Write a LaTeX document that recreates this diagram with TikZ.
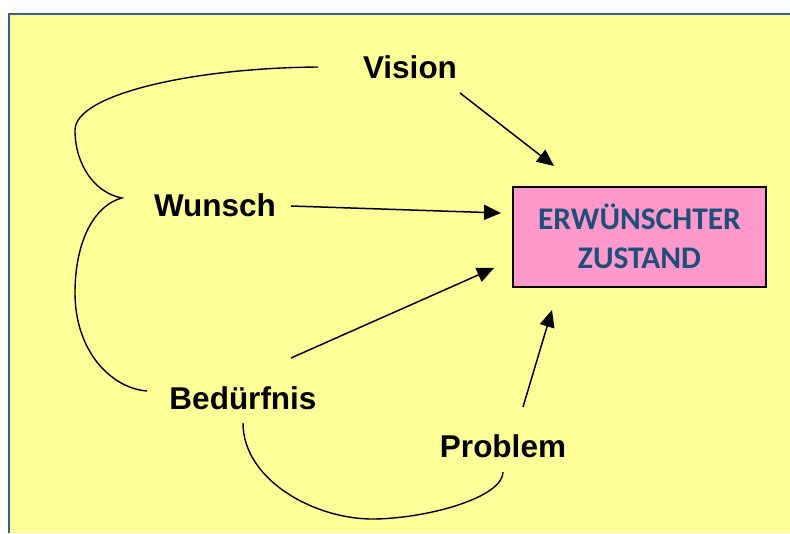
\documentclass[tikz,border=0pt]{standalone}
\usepackage{fontspec}
\setmainfont{Liberation Sans}
\newfontfamily\carl{Carlito}
\usetikzlibrary{arrows.meta}
\definecolor{bgyellow}{HTML}{FFFF99}
\definecolor{frameblue}{HTML}{3A5F8F}
\definecolor{boxpink}{HTML}{FF99CC}
\definecolor{textblue}{HTML}{1F4E79}
\tikzset{
  word/.style={font=\fontsize{31.5}{36}\selectfont\bfseries, inner sep=0pt},
  goal/.style={draw=black, line width=2pt, fill=boxpink, text=textblue, align=center,
    font=\carl\fontsize{31.5}{38.5}\selectfont\bfseries, inner sep=0pt},
  arr/.style={line width=1.5pt, -{Triangle[length=17pt,width=15pt]}},
  curve/.style={line width=1.4pt},
}
\begin{document}
\begin{tikzpicture}[x=1pt,y=-1pt]
\useasboundingbox (0,0) rectangle (790,533);
\fill[bgyellow] (9,14) rectangle (790,533);
\draw[frameblue, line width=2pt] (9,533) -- (9,14) -- (790,14);

\node[word] (vision) at (410,67) {Vision};
\node[word] (wunsch) at (215,205) {Wunsch};
\node[word] (beduerfnis) at (243,398) {Bedürfnis};
\node[word] (problem) at (503,446) {Problem};
\node[goal, minimum width=253pt, minimum height=100pt] (goal) at (639.5,236.5) {ERWÜNSCHTER\\ZUSTAND};

\coordinate (v1) at (460,93);   \coordinate (v2) at (554,166);
\coordinate (w1) at (291,206);  \coordinate (w2) at (501,213);
\coordinate (b1) at (291,358);  \coordinate (b2) at (494,268);
\coordinate (p1) at (523,407);  \coordinate (p2) at (552,310);

\draw[arr] (v1) -- (v2);
\draw[arr] (w1) -- (w2);
\draw[arr] (b1) -- (b2);
\draw[arr] (p1) -- (p2);

\coordinate (c0) at (318,67);
\coordinate (c1) at (75,130);
\coordinate (c2) at (122,198);
\coordinate (c3) at (75,293);
\coordinate (c4) at (147,391);
\draw[curve] (c0) .. controls (190,68) and (75,95) .. (c1)
  .. controls (75,165) and (95,193) .. (c2)
  .. controls (95,205) and (75,240) .. (c3)
  .. controls (75,350) and (110,388) .. (c4);

\coordinate (d0) at (243,423);
\coordinate (d1) at (375,519);
\coordinate (d2) at (503,472);
\draw[curve] (d0) .. controls (243,480) and (315,520) .. (d1)
  .. controls (430,518) and (503,497) .. (d2);
\end{tikzpicture}
\end{document}
